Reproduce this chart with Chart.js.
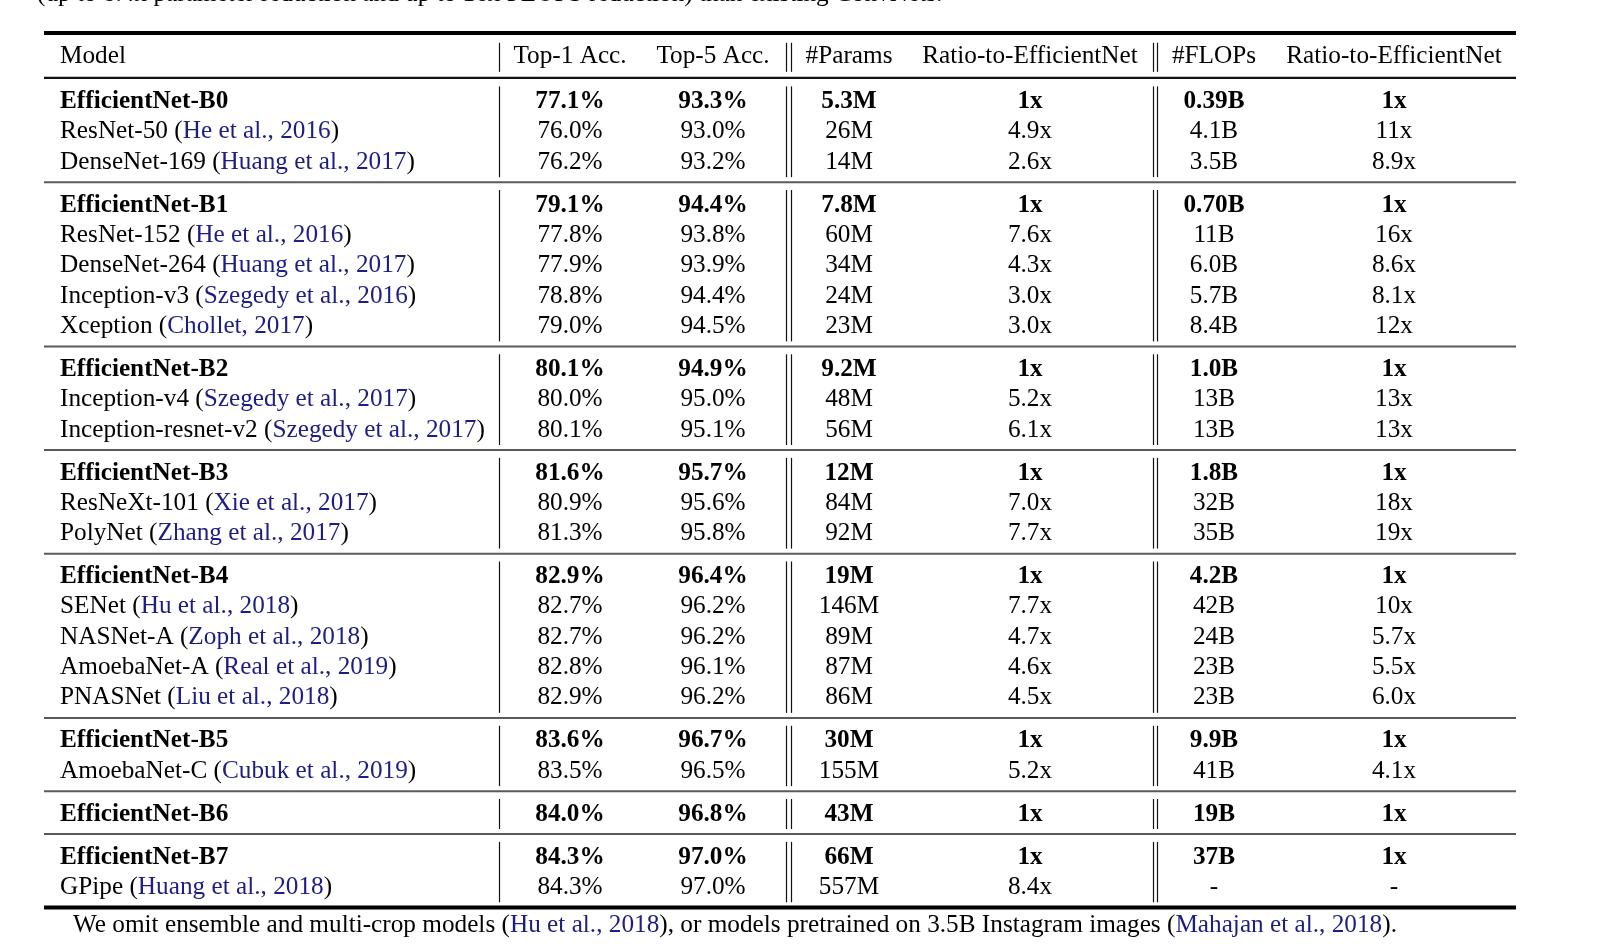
<!DOCTYPE html>
<html>
<head>
<meta charset="utf-8">
<title>EfficientNet results table</title>
<script src="https://cdn.jsdelivr.net/npm/chart.js@4.4.1/dist/chart.umd.min.js"></script>
<style>
  html, body { margin: 0; padding: 0; background: #fff; }
  #wrap { width: 1602px; height: 945px; position: relative; }
</style>
</head>
<body>
<div id="wrap"><canvas id="tbl"></canvas></div>
<script>
// table data
var headers = ['Model', 'Top-1 Acc.', 'Top-5 Acc.', '#Params', 'Ratio-to-EfficientNet', '#FLOPs', 'Ratio-to-EfficientNet'];
var groupSizes = [3, 5, 3, 3, 5, 2, 1, 2];
var models = ['EfficientNet-B0', 'ResNet-50', 'DenseNet-169',
  'EfficientNet-B1', 'ResNet-152', 'DenseNet-264', 'Inception-v3', 'Xception',
  'EfficientNet-B2', 'Inception-v4', 'Inception-resnet-v2',
  'EfficientNet-B3', 'ResNeXt-101', 'PolyNet',
  'EfficientNet-B4', 'SENet', 'NASNet-A', 'AmoebaNet-A', 'PNASNet',
  'EfficientNet-B5', 'AmoebaNet-C',
  'EfficientNet-B6',
  'EfficientNet-B7', 'GPipe'];
var citations = ['', 'He et al., 2016', 'Huang et al., 2017',
  '', 'He et al., 2016', 'Huang et al., 2017', 'Szegedy et al., 2016', 'Chollet, 2017',
  '', 'Szegedy et al., 2017', 'Szegedy et al., 2017',
  '', 'Xie et al., 2017', 'Zhang et al., 2017',
  '', 'Hu et al., 2018', 'Zoph et al., 2018', 'Real et al., 2019', 'Liu et al., 2018',
  '', 'Cubuk et al., 2019',
  '',
  '', 'Huang et al., 2018'];
var top1 = [77.1, 76.0, 76.2, 79.1, 77.8, 77.9, 78.8, 79.0, 80.1, 80.0, 80.1, 81.6, 80.9, 81.3,
  82.9, 82.7, 82.7, 82.8, 82.9, 83.6, 83.5, 84.0, 84.3, 84.3];
var top5 = [93.3, 93.0, 93.2, 94.4, 93.8, 93.9, 94.4, 94.5, 94.9, 95.0, 95.1, 95.7, 95.6, 95.8,
  96.4, 96.2, 96.2, 96.1, 96.2, 96.7, 96.5, 96.8, 97.0, 97.0];
var params = ['5.3M', '26M', '14M', '7.8M', '60M', '34M', '24M', '23M', '9.2M', '48M', '56M',
  '12M', '84M', '92M', '19M', '146M', '89M', '87M', '86M', '30M', '155M', '43M', '66M', '557M'];
var paramRatio = ['1x', '4.9x', '2.6x', '1x', '7.6x', '4.3x', '3.0x', '3.0x', '1x', '5.2x', '6.1x',
  '1x', '7.0x', '7.7x', '1x', '7.7x', '4.7x', '4.6x', '4.5x', '1x', '5.2x', '1x', '1x', '8.4x'];
var flops = ['0.39B', '4.1B', '3.5B', '0.70B', '11B', '6.0B', '5.7B', '8.4B', '1.0B', '13B', '13B',
  '1.8B', '32B', '35B', '4.2B', '42B', '24B', '23B', '23B', '9.9B', '41B', '19B', '37B', '-'];
var flopsRatio = ['1x', '11x', '8.9x', '1x', '16x', '8.6x', '8.1x', '12x', '1x', '13x', '13x',
  '1x', '18x', '19x', '1x', '10x', '5.7x', '5.5x', '6.0x', '1x', '4.1x', '1x', '1x', '-'];
var captionTop = '(up to 8.4x parameter reduction and up to 16x FLOPS reduction) than existing ConvNets.';
var footnote = ['We omit ensemble and multi-crop models (', 'Hu et al., 2018',
  '), or models pretrained on 3.5B Instagram images (', 'Mahajan et al., 2018', ').'];

// layout
var FONT = '"Liberation Serif", "Times New Roman", serif';
var SIZE = 25.25;
var LINK = '#1d1d82';
var GAP = 0.414;              // extra space between groups, in rows
var colX = [16, 526, 669, 805, 986, 1170, 1350];   // column anchors in table units
var vRules = [[455], [741.5, 746.5], [1108.5, 1113]];

// row slot of every row, with the group gaps
var groupOf = [], rowPos = [];
groupSizes.forEach(function (n, g) {
  for (var k = 0; k < n; k++) { groupOf.push(g); rowPos.push(groupOf.length - 1 + g * GAP); }
});
var bold = models.map(function (m) { return m.indexOf('EfficientNet') === 0; });

var columns = [
  models,
  top1.map(function (v) { return v.toFixed(1) + '%'; }),
  top5.map(function (v) { return v.toFixed(1) + '%'; }),
  params, paramRatio, flops, flopsRatio
];

var datasets = columns.map(function (col, c) {
  return {
    label: headers[c],
    data: col.map(function (t, i) { return { x: colX[c], y: rowPos[i] }; }),
    pointRadius: 0,
    showLine: false
  };
});

function font(b) { return (b ? 'bold ' : '') + SIZE + 'px ' + FONT; }

var tablePlugin = {
  id: 'tablePlugin',
  afterDatasetsDraw: function (chart) {
    var ctx = chart.ctx, xs = chart.scales.x, ys = chart.scales.y, a = chart.chartArea;
    ctx.save();

    function hline(y, w, col) {
      ctx.beginPath(); ctx.lineWidth = w; ctx.strokeStyle = col;
      ctx.moveTo(a.left, y); ctx.lineTo(a.right, y); ctx.stroke();
    }
    function vlines(y0, y1) {
      ctx.lineWidth = 1.2; ctx.strokeStyle = '#111';
      vRules.forEach(function (set) {
        set.forEach(function (v) {
          var x = Math.round(xs.getPixelForValue(v)) + 0.5;
          ctx.beginPath(); ctx.moveTo(x, ys.getPixelForValue(y0)); ctx.lineTo(x, ys.getPixelForValue(y1)); ctx.stroke();
        });
      });
    }

    // horizontal rules
    hline(a.top, 3.8, '#000');
    hline(a.bottom, 3.8, '#000');
    hline(ys.getPixelForValue(-0.73), 2.4, '#111');
    var start = 0;
    groupSizes.forEach(function (n, g) {
      var first = rowPos[start], last = rowPos[start + n - 1];
      vlines(first - 0.45, last + 0.54);
      if (g < groupSizes.length - 1) hline(ys.getPixelForValue((last + rowPos[start + n]) / 2), 2, '#5a5a5a');
      start += n;
    });
    vlines(-1.5 - 0.39, -1.5 + 0.57);

    // header
    ctx.textBaseline = 'alphabetic';
    ctx.fillStyle = '#000';
    ctx.font = font(false);
    headers.forEach(function (h, c) {
      ctx.textAlign = c === 0 ? 'left' : 'center';
      ctx.fillText(h, xs.getPixelForValue(colX[c]), ys.getPixelForValue(-1.5) + 8.2);
    });

    // cells, placed at each data point
    chart.data.datasets.forEach(function (ds, c) {
      var meta = chart.getDatasetMeta(c);
      meta.data.forEach(function (pt, i) {
        var y = pt.y + 8;
        ctx.font = font(bold[i]);
        ctx.fillStyle = '#000';
        if (c === 0) {
          ctx.textAlign = 'left';
          var x = pt.x;
          ctx.fillText(models[i], x, y);
          if (citations[i]) {
            x += ctx.measureText(models[i] + ' ').width;
            ctx.fillText('(', x, y); x += ctx.measureText('(').width;
            ctx.fillStyle = LINK; ctx.fillText(citations[i], x, y); x += ctx.measureText(citations[i]).width;
            ctx.fillStyle = '#000'; ctx.fillText(')', x, y);
          }
        } else {
          ctx.textAlign = 'center';
          ctx.fillText(columns[c][i], pt.x, y);
        }
      });
    });

    // clipped caption above and footnote below
    ctx.font = font(false);
    ctx.textAlign = 'left';
    ctx.fillStyle = '#000';
    ctx.fillText(captionTop, 37, 0.5);
    var fx = 73, fy = 932;
    footnote.forEach(function (part, k) {
      ctx.fillStyle = k % 2 ? LINK : '#000';
      ctx.fillText(part, fx, fy);
      fx += ctx.measureText(part).width;
    });
    ctx.restore();
  }
};

var chart = new Chart(document.getElementById('tbl').getContext('2d'), {
  type: 'scatter',
  data: { datasets: datasets },
  options: {
    responsive: true,
    maintainAspectRatio: false,
    animation: false,
    layout: { padding: { left: 44, right: 86, top: 33, bottom: 37.5 } },
    plugins: { legend: { display: false }, tooltip: { enabled: false } },
    scales: {
      x: { type: 'linear', display: false, min: 0, max: 1472 },
      y: { type: 'linear', display: false, reverse: true, min: -2.21, max: 26.61 }
    }
  },
  plugins: [tablePlugin]
});
</script>
</body>
</html>
